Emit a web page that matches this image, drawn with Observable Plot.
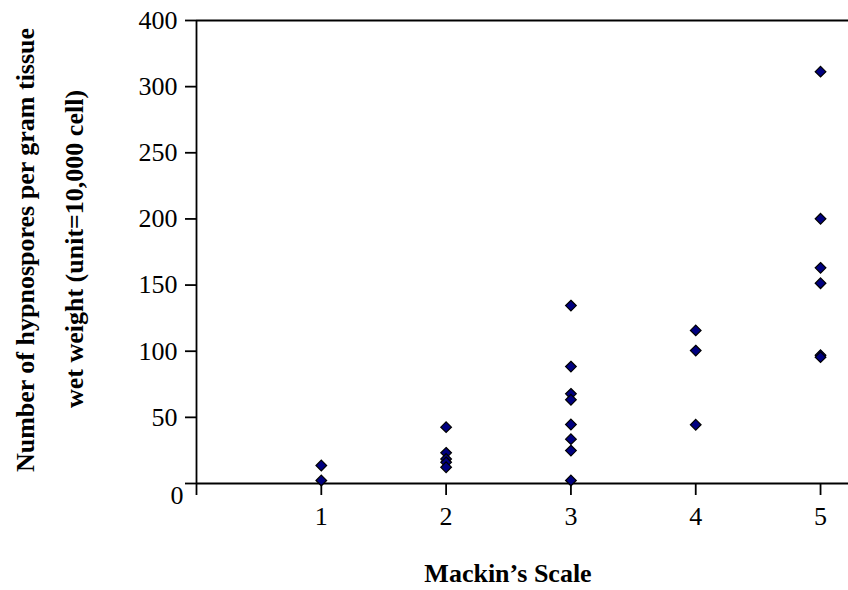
<!DOCTYPE html>
<html>
<head>
<meta charset="utf-8">
<script src="https://cdn.jsdelivr.net/npm/d3@7"></script>
<script src="https://cdn.jsdelivr.net/npm/@observablehq/plot@0.6"></script>
<style>
  html, body { margin: 0; padding: 0; background: #fff; }
  #chart { width: 848px; height: 590px; }
</style>
</head>
<body>
<div id="chart"></div>
<script>
// Mackin's scale categories and observed values (hypnospores per gram tissue wet weight, unit = 10,000 cells)
const categories = [1, 2, 3, 4, 5];
const valuesScale1 = [13.6, 2.3];
const valuesScale2 = [42.6, 23.2, 18.5, 16, 12.3];
const valuesScale3 = [134.5, 88.4, 67.8, 63.3, 44.6, 33.5, 24.9, 2.3];
const valuesScale4 = [115.7, 100.5, 44.4];
const valuesScale5 = [311.3, 200.1, 163, 151.4, 97, 95.5];

// Axis ticks and their labels as printed in the figure
const xTicks = [0, 1, 2, 3, 4, 5];
const xTickLabels = ["", "1", "2", "3", "4", "5"];
const yTicks = [0, 50, 100, 150, 200, 250, 300, 350];
const yTickLabels = ["", "50", "100", "150", "200", "250", "300", "400"];
const zeroLabel = ["0"];

const xTitle = "Mackin\u2019s Scale";
const yTitle1 = "Number of hypnospores per gram tissue";
const yTitle2 = "wet weight (unit=10,000 cell)";

const groups = [valuesScale1, valuesScale2, valuesScale3, valuesScale4, valuesScale5];
const points = categories.flatMap((c, i) => groups[i].map(v => ({scale: c, count: v})));

const chart = Plot.plot({
  width: 848,
  height: 590,
  marginLeft: 196,
  marginRight: 0,
  marginTop: 20,
  marginBottom: 107,
  style: {fontFamily: "'Liberation Serif', 'Times New Roman', serif", fontSize: "26px", color: "black", background: "white"},
  x: {domain: [0, 5.224]},
  y: {domain: [0, 350]},
  marks: [
    Plot.ruleY([0, 350], {stroke: "black", strokeWidth: 1.8}),
    Plot.ruleX([0], {stroke: "black", strokeWidth: 1.8}),
    Plot.axisY(yTicks, {
      ticks: yTicks, tickSize: 11, tickPadding: 8, strokeWidth: 1.8,
      tickFormat: d => yTickLabels[yTicks.indexOf(d)],
      label: null, fontSize: 26
    }),
    Plot.axisX(xTicks, {
      ticks: xTicks, tickSize: 12, tickPadding: 11, strokeWidth: 1.8,
      tickFormat: d => xTickLabels[xTicks.indexOf(d)],
      label: null, fontSize: 26
    }),
    Plot.text(zeroLabel, {x: () => 0, y: () => 0, text: d => d, textAnchor: "end", dx: -13, dy: 12, fontSize: 26}),
    Plot.dot(points, {x: "scale", y: "count", symbol: "diamond2", r: 4.8, fill: "#000080", stroke: "black", strokeWidth: 1.2}),
    Plot.text([yTitle1], {frameAnchor: "left", rotate: -90, textAnchor: "middle", dx: -171, dy: -2, lineAnchor: "middle", fontWeight: "bold", fontSize: 26}),
    Plot.text([yTitle2], {frameAnchor: "left", rotate: -90, textAnchor: "middle", dx: -122, dy: -3, lineAnchor: "middle", fontWeight: "bold", fontSize: 26}),
    Plot.text([xTitle], {frameAnchor: "bottom", textAnchor: "middle", dx: -14.5, dy: 90, lineAnchor: "middle", fontWeight: "bold", fontSize: 26})
  ]
});
document.getElementById("chart").appendChild(chart);
</script>
</body>
</html>
